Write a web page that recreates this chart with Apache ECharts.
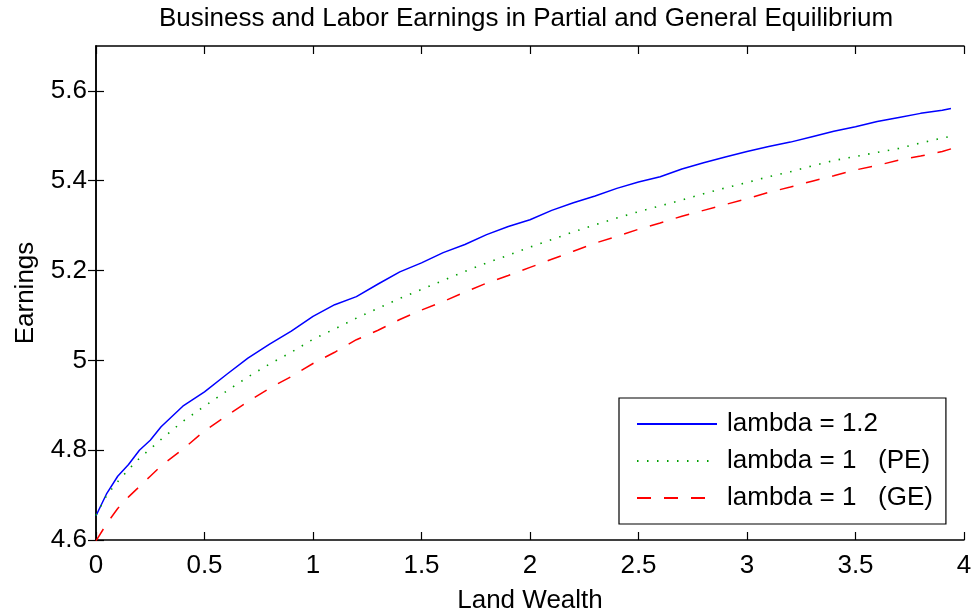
<!DOCTYPE html>
<html>
<head>
<meta charset="utf-8">
<script src="https://cdn.jsdelivr.net/npm/echarts@6/dist/echarts.min.js"></script>
<style>
html,body{margin:0;padding:0;background:#fff;}
#chart{width:977px;height:615px;}
</style>
</head>
<body>
<div id="chart"></div>
<script>
const landWealth = [0, 0.05, 0.1, 0.15, 0.2, 0.25, 0.3, 0.4, 0.5, 0.6, 0.7, 0.8, 0.9, 1.0, 1.1, 1.2, 1.3, 1.4, 1.5, 1.6, 1.7, 1.8, 1.9, 2.0, 2.1, 2.2, 2.3, 2.4, 2.5, 2.6, 2.7, 2.8, 2.9, 3.0, 3.1, 3.2, 3.3, 3.4, 3.5, 3.6, 3.7, 3.8, 3.9, 3.94];
const lambda12 = [4.654, 4.704, 4.742, 4.768, 4.800, 4.822, 4.852, 4.898, 4.930, 4.968, 5.005, 5.036, 5.065, 5.098, 5.124, 5.142, 5.170, 5.197, 5.217, 5.240, 5.258, 5.280, 5.298, 5.313, 5.334, 5.351, 5.366, 5.383, 5.397, 5.409, 5.426, 5.440, 5.453, 5.465, 5.476, 5.486, 5.498, 5.510, 5.520, 5.532, 5.541, 5.550, 5.557, 5.561];
const lambda1PE = [4.655, 4.700, 4.730, 4.757, 4.782, 4.803, 4.824, 4.864, 4.898, 4.931, 4.963, 4.992, 5.018, 5.047, 5.070, 5.094, 5.116, 5.138, 5.158, 5.178, 5.198, 5.217, 5.234, 5.252, 5.269, 5.286, 5.302, 5.317, 5.331, 5.344, 5.357, 5.371, 5.384, 5.396, 5.409, 5.420, 5.433, 5.445, 5.454, 5.463, 5.472, 5.484, 5.495, 5.499];
const lambda1GE = [4.598, 4.637, 4.670, 4.696, 4.719, 4.742, 4.765, 4.802, 4.843, 4.876, 4.908, 4.938, 4.964, 4.993, 5.018, 5.046, 5.067, 5.091, 5.112, 5.131, 5.152, 5.172, 5.189, 5.207, 5.225, 5.243, 5.261, 5.276, 5.292, 5.306, 5.321, 5.334, 5.347, 5.360, 5.374, 5.386, 5.399, 5.411, 5.424, 5.434, 5.446, 5.455, 5.465, 5.471];
const yTicks = [4.6, 4.8, 5, 5.2, 5.4, 5.6];
const seriesNames = ['lambda = 1.2', 'lambda = 1   (PE)', 'lambda = 1   (GE)'];

const FONT = 'Liberation Sans, Arial, sans-serif';
const FS = 26;
function pairs(ys){ return landWealth.map((x,i)=>[x, ys[i]]); }

const chart = echarts.init(document.getElementById('chart'), null, {renderer:'canvas'});
const axisLine = {show:true, lineStyle:{color:'#000', width:1.5}};
const tick = {show:true, inside:true, length:8, lineStyle:{color:'#000', width:1.2}};
chart.setOption({
  animation:false,
  backgroundColor:'#fff',
  title:{
    text:'Business and Labor Earnings in Partial and General Equilibrium',
    left:521, top:1, textAlign:'center',
    textStyle:{fontFamily:FONT, fontSize:FS, fontWeight:'normal', color:'#000'}
  },
  grid:{left:96, right:13, top:46, bottom:75, containLabel:false, outerBoundsMode:'none'},
  legend:{
    orient:'vertical', left:619, top:398,
    padding:[13, 13, 13, 17],
    itemWidth:80, itemHeight:14, itemGap:11,
    borderColor:'#000', borderWidth:1.2, backgroundColor:'#fff',
    itemStyle:{opacity:0},
    textStyle:{fontFamily:FONT, fontSize:FS, color:'#000', padding:[0,0,0,5], lineHeight:26},
    data:seriesNames
  },
  xAxis:[
    {type:'value', min:0, max:4, interval:0.5, position:'bottom',
     axisLine:axisLine, axisTick:tick, splitLine:{show:false},
     axisLabel:{fontFamily:FONT, fontSize:FS, color:'#000', margin:13},
     name:'Land Wealth', nameLocation:'middle', nameGap:48,
     nameTextStyle:{fontFamily:FONT, fontSize:FS, color:'#000'}},
    {type:'value', min:0, max:4, interval:0.5, position:'top',
     axisLine:axisLine, axisTick:tick, splitLine:{show:false}, axisLabel:{show:false}}
  ],
  yAxis:[
    {type:'value', min:4.6, max:5.7, position:'left',
     axisLine:axisLine, axisTick:Object.assign({}, tick, {customValues:yTicks}), splitLine:{show:false},
     axisLabel:{fontFamily:FONT, fontSize:FS, color:'#000', margin:9, customValues:yTicks},
     name:'Earnings', nameLocation:'middle', nameGap:57,
     nameTextStyle:{fontFamily:FONT, fontSize:FS, color:'#000'}},
    {type:'value', min:4.6, max:5.7, position:'right',
     axisLine:axisLine, axisTick:Object.assign({}, tick, {customValues:yTicks}), splitLine:{show:false},
     axisLabel:{show:false}}
  ],
  series:[
    {name:seriesNames[0], type:'line', data:pairs(lambda12), symbol:'none', smooth:false,
     lineStyle:{color:'#0000ff', width:1.5, type:'solid'}, itemStyle:{color:'#0000ff'}},
    {name:seriesNames[1], type:'line', data:pairs(lambda1PE), symbol:'none', smooth:false,
     lineStyle:{color:'#00a000', width:1.6, type:[1.5, 8.5]}, itemStyle:{color:'#00a000'}},
    {name:seriesNames[2], type:'line', data:pairs(lambda1GE), symbol:'none', smooth:false,
     lineStyle:{color:'#ff0000', width:1.5, type:[14, 13]}, itemStyle:{color:'#ff0000'}}
  ]
});
</script>
</body>
</html>
